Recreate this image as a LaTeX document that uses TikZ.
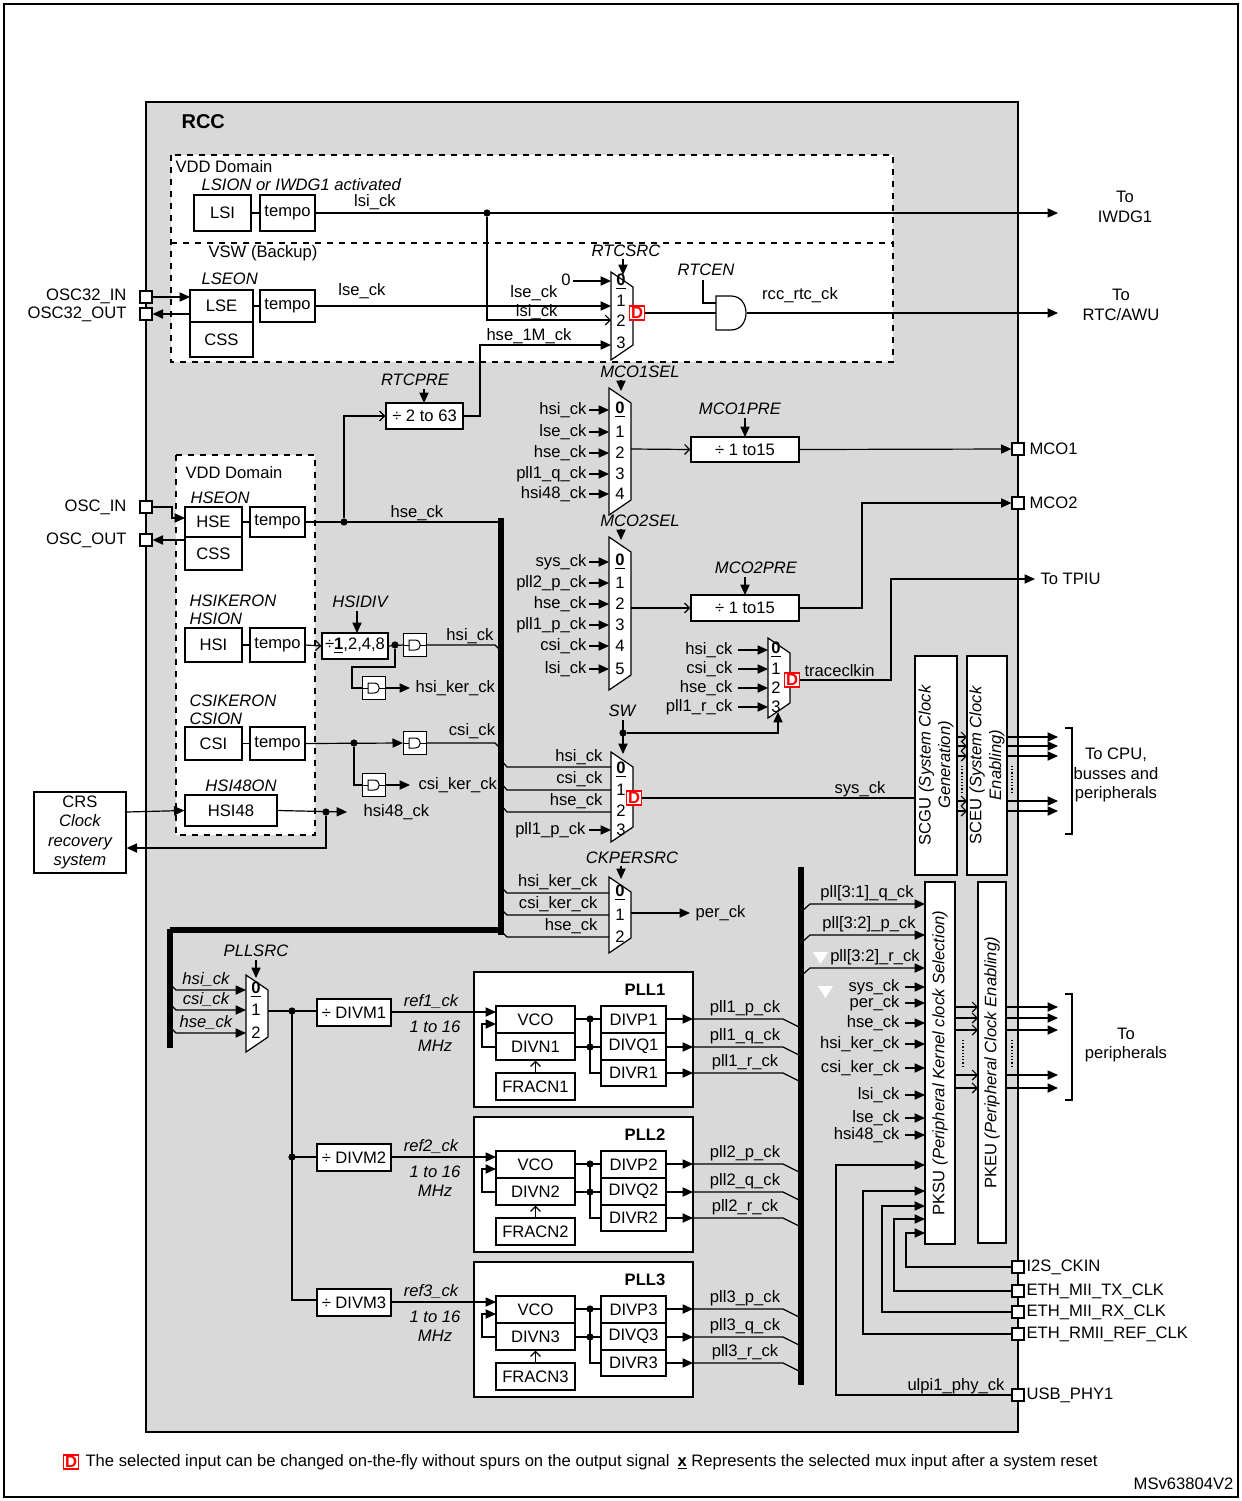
\documentclass[tikz,border=0pt]{standalone}
\usepackage{fontspec}
\setmainfont{Liberation Sans}
\usetikzlibrary{arrows.meta,calc}
\newcommand\fs{\fontsize{8.3}{9.8}\selectfont}
\definecolor{rccgray}{RGB}{217,217,217}
\tikzset{
 every path/.style={line width=0.6pt},
 a/.style={-{Triangle[length=5.2pt,width=4.6pt]}},
 o/.style={-{Straight Barb[length=2.5pt,width=5pt]}},
 box/.style={draw,fill=white,inner sep=0pt,font=\fs},
 t/.style={font=\fs,inner sep=0pt},
 it/.style={font=\fs\itshape,inner sep=0pt},
 bus/.style={line width=2.6pt},
 dot/.style={circle,fill,inner sep=0pt,minimum size=3.6pt},
 pin/.style={draw,fill=white,minimum size=6pt,inner sep=0pt},
 dmark/.style={draw=red,fill=white,text=red,font=\fs\bfseries,inner sep=0.6pt,minimum size=7pt},
}
\newcommand\bx[6]{\node[box,minimum width={(#4-#2)*0.5pt},minimum height={(#5-#3)*0.5pt}] (#1) at ({(#2+#4)/2},{(#3+#5)/2}) {#6};}
\newcommand\mux[4]{\draw[fill=white] (#1,#2) -- ({#1+22},{#2+15}) -- ({#1+22},{#3-15}) -- (#1,#3) -- cycle; \coordinate (#4) at ({#1+22},{(#2+#3)/2});}
\newcommand\nm[3]{\node[t] at (#1,#2) {#3};}
\newcommand\zero{\underline{\textbf{0}}}
\newcommand\dbx[2]{\node[dmark] (#1) at #2 {D};}
\newcommand\gate[2]{\node[draw,fill=white,minimum size=11.5pt,inner sep=0pt] (#1) at #2 {};
 \draw[line width=0.5pt] ($(#1)+(-6,-5)$) -- ($(#1)+(0,-5)$) .. controls ($(#1)+(7,-5)$) and ($(#1)+(7,5)$) .. ($(#1)+(0,5)$) -- ($(#1)+(-6,5)$) -- cycle;
 \draw[line width=0.5pt] ($(#1)+(-11,0)$) -- ($(#1)+(-6,0)$) ($(#1)+(5,0)$) -- ($(#1)+(11,0)$);}
\newcommand\pllblock[2]{%
\begin{scope}[yshift={-#2*0.5pt}]
\bx{divm#1}{317}{999}{391}{1026}{÷ DIVM#1}
\node[it] at (431,1001) {ref#1\_ck};
\node[it,align=center] at (435,1036) {1 to 16\\MHz};
\draw[fill=white] (474,972) rectangle (693,1107);
\node[t,font=\fs\bfseries] at (645,990) {PLL#1};
\bx{vco#1}{496}{1006}{575}{1033}{VCO}
\bx{divn#1}{496}{1033}{575}{1060}{DIVN#1}
\bx{frac#1}{496}{1073}{575}{1100}{FRACN#1}
\bx{divp#1}{601}{1006}{666}{1033}{DIVP#1}
\bx{divq#1}{601}{1033}{666}{1060}{DIVQ#1}
\bx{divr#1}{601}{1060}{666}{1086}{DIVR#1}
\draw[a] (391,1012) -- (496,1012);
\draw[a] (496,1047) -| (482,1024) -- (496,1024);
\draw[o] (frac#1.north) -- (divn#1.south);
\draw (575,1019) -- (601,1019); \draw (575,1047) -- (601,1047);
\node[dot] at (590,1019) {}; \node[dot] at (590,1047) {};
\draw (590,1019) -- (590,1073) -- (601,1073);
\draw[a] (666,1019) -- (693,1019); \draw (693,1019) -- (783,1019) -- (801,1028);
\draw[a] (666,1047) -- (693,1047); \draw (693,1047) -- (783,1047) -- (801,1056);
\draw[a] (666,1073) -- (693,1073); \draw (693,1073) -- (783,1073) -- (801,1082);
\node[t] at (745,1008) {pll#1\_p\_ck};
\node[t] at (745,1036) {pll#1\_q\_ck};
\node[t] at (745,1062) {pll#1\_r\_ck};
\end{scope}}
\begin{document}
\begin{tikzpicture}[x=0.5pt,y=-0.5pt]
\useasboundingbox (0,0) rectangle (1242,1501);
\draw[line width=0.9pt] (4,4) rectangle (1238,1497);
\draw[line width=1.2pt,fill=rccgray] (146,102) rectangle (1018,1432);
\node[t,font=\fontsize{10}{12}\selectfont\bfseries,anchor=west] at (181,122) {RCC};
% ---------- top domains
\draw[dashed,fill=white] (171,155) rectangle (893,362);
\draw[dashed] (171,243) -- (893,243);
\node[t,anchor=west] at (175,167) {VDD Domain};
\node[it,anchor=west] at (201,185) {LSION or IWDG1 activated};
\bx{lsi}{194}{195}{251}{231}{LSI}
\bx{t1}{260}{195}{315}{231}{tempo}
\draw (lsi) -- (t1);
\draw[a] (t1.east) -- (1058,213);
\node[t] at (375,202) {lsi\_ck};
\node[dot] (d1) at (487,213) {};
\draw[o] (d1) |- (611,320);
\node[t,align=center] at (1125,207) {To\\IWDG1};
\node[t,anchor=west] at (208,253) {VSW (Backup)};
\node[it,anchor=west] at (201,279) {LSEON};
\bx{lse}{190}{290}{253}{322}{LSE}
\bx{css1}{190}{322}{253}{357}{CSS}
\bx{t2}{260}{290}{315}{322}{tempo}
\draw (lse) -- (t2);
\draw[a] (t2.east) -- (611,306);
\node[t] at (362,291) {lse\_ck};
\node[pin] (p32in) at (146,297) {};
\node[pin] (p32out) at (146,314) {};
\node[t,anchor=east] at (127,296) {OSC32\_IN};
\node[t,anchor=east] at (127,314) {OSC32\_OUT};
\draw[a] (p32in.east) -- (190,297);
\draw[a] (190,314) -- (p32out.east);
\mux{611}{272}{360}{rtcmux}
\nm{621}{282}{\zero}\nm{621}{301}{1}\nm{621}{321}{2}\nm{621}{343}{3}
\node[it] at (626,251) {RTCSRC};
\draw[a] (623,259) -- (623,275);
\node[t] at (566,280) {0}; \draw[a] (573,281) -- (611,281);
\node[t,anchor=east] at (558,293) {lse\_ck};
\node[t,anchor=east] at (558,312) {lsi\_ck};
\node[t,anchor=east] at (572,336) {hse\_1M\_ck};
\dbx{drtc}{(637,313)}
\draw (drtc.east) -- (716,313);
\draw[fill=white] (716,296) -- (731,296) .. controls (751,296) and (751,330) .. (731,330) -- (716,330) -- cycle;
\node[it] at (706,270) {RTCEN};
\draw (703,280) |- (716,303);
\draw[a] (747,313) -- (1058,313);
\node[t] at (800,295) {rcc\_rtc\_ck};
\node[t,align=center] at (1121,305) {To\\RTC/AWU};
% RTCPRE
\bx{div1}{386}{403}{463}{429}{÷ 2 to 63}
\node[it] at (415,380) {RTCPRE};
\draw[a] (424,389) -- (424,403);
\draw[a] (div1.east) -| (480,345) -- (611,345);
% MCO1
\mux{609}{388}{515}{mco1mux}
\node[it] at (640,372) {MCO1SEL}; \draw[a] (621,380) -- (621,391);
\foreach \y/\l/\n in {410/hsi\_ck/\zero,432/lse\_ck/1,453/hse\_ck/2,474/pll1\_q\_ck/3,494/hsi48\_ck/4}{
 \node[t,anchor=east] at (587,\y) {\l}; \draw[a] (589,\y) -- (609,\y); \nm{620}{\y}{\n}}
\bx{mco1pre}{691}{437}{799}{462}{÷ 1 to15}
\draw[o] (631,449) -- (mco1pre.west);
\node[it] at (740,409) {MCO1PRE}; \draw[a] (745,418) -- (745,437);
\node[pin] (pmco1) at (1018,449) {};
\node[t,anchor=west] at (1029,449) {MCO1};
\draw[a] (mco1pre.east) -- (pmco1.west);
% MCO2
\mux{609}{537}{690}{mco2mux}
\node[it] at (640,521) {MCO2SEL}; \draw[a] (621,529) -- (621,540);
\foreach \y/\l/\n in {562/sys\_ck/\zero,583/pll2\_p\_ck/1,604/hse\_ck/2,625/pll1\_p\_ck/3,646/csi\_ck/4,669/lsi\_ck/5}{
 \node[t,anchor=east] at (587,\y) {\l}; \draw[a] (589,\y) -- (609,\y); \nm{620}{\y}{\n}}
\bx{mco2pre}{691}{595}{799}{621}{÷ 1 to15}
\draw[o] (631,608) -- (mco2pre.west);
\node[it] at (756,568) {MCO2PRE}; \draw[a] (745,577) -- (745,595);
\node[pin] (pmco2) at (1018,503) {};
\node[t,anchor=west] at (1029,503) {MCO2};
\draw[a] (mco2pre.east) -| (862,503) -- (pmco2.west);
% trace
\mux{768}{638}{718}{trmux}
\foreach \y/\l/\n in {650/hsi\_ck/\zero,669/csi\_ck/1,688/hse\_ck/2,707/pll1\_r\_ck/3}{
 \node[t,anchor=east] at (733,\y) {\l}; \draw[a] (738,\y) -- (768,\y); \nm{776}{\y}{\n}}
\dbx{dtr}{(792,680)}
\node[t,anchor=west] at (804,671) {traceclkin};
\draw[a] (dtr.east) -| (891,579) -- (1035,579);
\node[t,anchor=west] at (1040,579) {To TPIU};
% SW
\node[it] at (622,711) {SW};
\draw[a] (623,720) -- (623,754);
\node[dot] (dsw) at (623,733) {};
\draw[a] (dsw) -| (778,712);
\mux{611}{752}{842}{swmux}
\nm{621}{770}{\zero}\nm{621}{790}{1}\nm{621}{811}{2}\nm{621}{830}{3}
\draw (501,760) -- (507,767) -- (611,767);
\draw (501,783) -- (507,790) -- (611,790);
\draw (501,805) -- (507,812) -- (611,812);
\node[t,anchor=east] at (603,757) {hsi\_ck};
\node[t,anchor=east] at (603,779) {csi\_ck};
\node[t,anchor=east] at (603,801) {hse\_ck};
\node[t,anchor=east] at (586,830) {pll1\_p\_ck}; \draw[a] (589,830) -- (611,830);
\dbx{dsw2}{(634,798)}
\draw (dsw2.east) -- (915,798);
\node[t] at (860,789) {sys\_ck};
% CKPER
\mux{609}{877}{953}{permux}
\node[it] at (632,858) {CKPERSRC}; \draw[a] (621,866) -- (621,879);
\nm{620}{893}{\zero}\nm{620}{915}{1}\nm{620}{937}{2}
\draw (501,887) -- (507,893) -- (609,893);
\draw (501,909) -- (507,915) -- (609,915);
\draw (501,931) -- (507,937) -- (609,937);
\node[t,anchor=east] at (598,882) {hsi\_ker\_ck};
\node[t,anchor=east] at (598,904) {csi\_ker\_ck};
\node[t,anchor=east] at (598,926) {hse\_ck};
\draw[a] (631,913) -- (690,913);
\node[t,anchor=west] at (695,913) {per\_ck};
% ---------- HSE/HSI/CSI domain
\draw[dashed,fill=white] (176,455) rectangle (315,835);
\node[t,anchor=west] at (185,473) {VDD Domain};
\node[it,anchor=west] at (190,498) {HSEON};
\bx{hse}{185}{507}{242}{537}{HSE}
\bx{css2}{185}{537}{242}{570}{CSS}
\bx{t3}{250}{507}{305}{537}{tempo}
\draw (hse) -- (t3);
\draw (t3.east) -- (501,522);
\node[dot] (dhse) at (344,522) {};
\draw[o] (dhse) |- (div1.west);
\node[t] at (417,513) {hse\_ck};
\node[pin] (oscin) at (146,507) {};
\node[pin] (oscout) at (146,540) {};
\node[t,anchor=east] at (127,507) {OSC\_IN};
\node[t,anchor=east] at (127,540) {OSC\_OUT};
\draw[a] (oscin.east) -- (172,507) -- (172,518) -- (185,518);
\draw[a] (185,540) -- (oscout.east);
\node[it,anchor=west] at (189,601) {HSIKERON};
\node[it,anchor=west] at (189,619) {HSION};
\bx{hsi}{185}{628}{242}{662}{HSI}
\bx{t4}{250}{628}{305}{662}{tempo}
\draw (hsi) -- (t4);
\bx{hsidiv}{322}{633}{388}{659}{÷\underline{\textbf{1}},2,4,8}
\draw[o] (t4.east) -- (hsidiv.west);
\node[it] at (360,602) {HSIDIV}; \draw[a] (357,611) -- (357,633);
\gate{g1}{(415,645)}
\gate{g2}{(374,688)}
\draw (hsidiv.east) -- (g1.west);
\node[dot] (dhsi) at (395,645) {};
\draw (dhsi) -- (395,667) -- (352,667) -- (352,688) -- (g2.west);
\draw (g1.east) -- (495,645) -- (501,651);
\node[t] at (470,636) {hsi\_ck};
\draw[a] (g2.east) -- (410,688);
\node[t,anchor=west] at (415,688) {hsi\_ker\_ck};
\node[it,anchor=west] at (189,701) {CSIKERON};
\node[it,anchor=west] at (189,719) {CSION};
\bx{csi}{185}{727}{242}{760}{CSI}
\bx{t5}{250}{727}{305}{760}{tempo}
\draw (csi) -- (t5);
\gate{g3}{(415,743)}
\gate{g4}{(374,785)}
\draw[a] (t5.east) -- (g3.west);
\node[dot] (dcsi) at (354,743) {};
\draw (dcsi) |- (g4.west);
\draw (g3.east) -- (495,743) -- (501,749);
\node[t] at (472,731) {csi\_ck};
\draw[a] (g4.east) -- (410,785);
\node[t,anchor=west] at (418,785) {csi\_ker\_ck};
\node[it] at (241,786) {HSI48ON};
\bx{hsi48}{185}{795}{277}{826}{HSI48}
\draw[a] (hsi48.east) -- (347,812);
\node[dot] (d48) at (326,812) {};
\node[t,anchor=west] at (363,812) {hsi48\_ck};
\bx{crs}{34}{792}{126}{873}{\begin{tabular}{@{}c@{}}CRS\\\itshape Clock\\\itshape recovery\\\itshape system\end{tabular}}
\draw[a] (d48) -- (326,848) -- (crs.east |- 0,848);
\draw[a] (crs.east |- 0,812) -- (hsi48.west);
% buses
\draw[bus] (501,518) -- (501,935);
\draw[bus] (170,930) -- (502,930);
\draw[bus] (170,929) -- (170,1048);
\draw[bus] (801,867) -- (801,1385);
% PLL src
\node[it] at (256,951) {PLLSRC}; \draw[a] (256,960) -- (256,978);
\mux{246}{975}{1052}{pllmux}
\nm{256}{990}{\zero}\nm{256}{1010}{1}\nm{256}{1033}{2}
\foreach \y/\l in {990/hsi\_ck,1010/csi\_ck,1033/hse\_ck}{
 \draw[a] (170,{\y-6}) -- (176,\y) -- (246,\y); \node[it] at (206,{\y-11}) {\l};}
\draw (268,1011) -- (317,1011);
\node[dot] at (292,1011) {};
\node[dot] at (292,1157) {};
\draw (292,1011) -- (292,1300) -- (317,1300);
\draw (292,1157) -- (317,1157);
\pllblock{1}{0}
\pllblock{2}{145}
\pllblock{3}{290}
% SCGU/SCEU
\bx{scgu}{915}{656}{957}{875}{}
\bx{sceu}{967}{656}{1007}{875}{}
\node[t,rotate=90,align=center] at (936,765) {SCGU \textit{(System Clock}\\\textit{Generation)}};
\node[t,rotate=90,align=center] at (987,765) {SCEU \textit{(System Clock}\\\textit{Enabling)}};
\foreach \y in {737,746,756,801,811}{\draw[o] (957,\y) -- (967,\y); \draw[a] (1007,\y) -- (1058,\y);}
\draw[densely dotted] (962,766) -- (962,792);
\draw[densely dotted] (1012,766) -- (1012,792);
\draw (1065,728) -- (1072,728) -- (1072,834) -- (1065,834);
\node[t,align=center] at (1116,775) {To CPU,\\busses and\\peripherals};
% PKSU/PKEU
\bx{pksu}{925}{882}{955}{1244}{}
\bx{pkeu}{978}{882}{1006}{1243}{}
\node[t,rotate=90] at (940,1063) {PKSU \textit{(Peripheral Kernel clock Selection)}};
\node[t,rotate=90] at (992,1063) {PKEU \textit{(Peripheral Clock Enabling)}};
\draw[a] (801,912) -- (810,904) -- (925,904); \node[t] at (867,893) {pll[3:1]\_q\_ck};
\draw[a] (801,943) -- (810,935) -- (925,935); \node[t] at (869,924) {pll[3:2]\_p\_ck};
\draw[a] (801,976) -- (810,968) -- (925,968); \node[t] at (875,957) {pll[3:2]\_r\_ck};
\fill[white] (813,952) -- (828,952) -- (820.5,964) -- cycle;
\fill[white] (818,986) -- (833,986) -- (825.5,998) -- cycle;
\foreach \y/\l in {987/sys\_ck,1003/per\_ck,1023/hse\_ck,1044/hsi\_ker\_ck,1068/csi\_ker\_ck,1095/lsi\_ck,1118/lse\_ck,1135/hsi48\_ck}{
 \node[t,anchor=east] at (900,\y) {\l}; \draw[a] (905,\y) -- (925,\y);}
\foreach \y in {1007,1018,1030,1075,1088}{\draw[o] (955,\y) -- (978,\y); \draw[a] (1006,\y) -- (1058,\y);}
\draw[densely dotted] (963,1040) -- (963,1066);
\draw[densely dotted] (1012,1040) -- (1012,1066);
\draw (1065,994) -- (1072,994) -- (1072,1100) -- (1065,1100);
\node[t,align=center] at (1126,1045) {To\\peripherals};
% external pins
\foreach \n/\y/\x/\ty/\l in {pi2s/1267/906/1233/I2S\_CKIN,ptx/1291/894/1219/ETH\_MII\_TX\_CLK,prx/1312/882/1206/ETH\_MII\_RX\_CLK,prm/1334/863/1191/ETH\_RMII\_REF\_CLK,pusb/1395/836/1165/USB\_PHY1}{
 \node[pin] (\n) at (1018,\y) {};
 \node[t,anchor=west] at (1026,\y) {\l};
 \draw[a] (\n.west) -| (\x,\ty) -- (925,\ty);}
\node[t,anchor=east] at (1005,1386) {ulpi1\_phy\_ck};
% legend
\node[dmark] (legd) at (71,1462) {D};
\node[t,anchor=west] at (85,1462) {The selected input can be changed on-the-fly without spurs on the output signal};
\node[t,anchor=west] at (677,1462) {\underline{\textbf{x}} Represents the selected mux input after a system reset};
\node[t,anchor=east] at (1234,1484) {MSv63804V2};
\end{tikzpicture}
\end{document}
